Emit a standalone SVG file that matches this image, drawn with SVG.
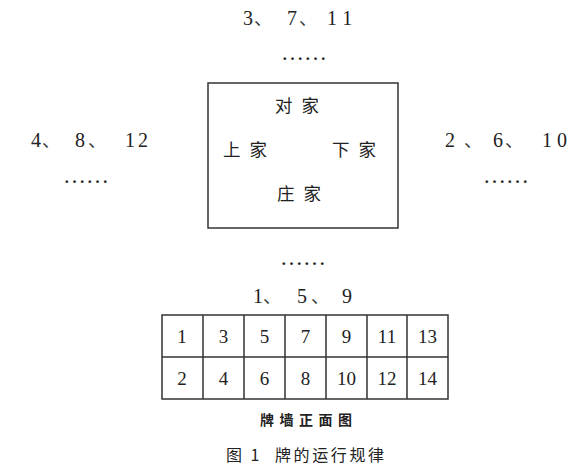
<svg xmlns="http://www.w3.org/2000/svg" width="580" height="468" viewBox="0 0 580 468">
<style>
.num{font-family:"Liberation Serif","Times New Roman",serif;font-size:20px;fill:#222}
.cjk{font-family:"Noto Sans CJK SC","Noto Sans CJK JP",sans-serif;fill:#222}
.sep{font-family:"Noto Sans CJK SC",sans-serif;font-size:18px;fill:#333}
.dots{font-family:"Liberation Serif",serif;font-size:23px;fill:#222}
.seat{font-size:17.5px;letter-spacing:9px}
.cell{font-family:"Liberation Serif","Times New Roman",serif;font-size:19px;fill:#222;text-anchor:middle}
.line{fill:none;stroke:#333;stroke-width:1.5}
</style>
<rect width="580" height="468" fill="#ffffff"/>
<g id="top-label">
<text class="num" x="243" y="25">3</text><text class="sep" x="254" y="25">、</text>
<text class="num" x="287" y="25">7</text><text class="sep" x="299" y="25">、</text>
<text class="num" x="327" y="25" letter-spacing="6">11</text>
<text class="dots" x="281" y="60">……</text>
</g>
<g id="left-label">
<text class="num" x="31" y="147">4</text><text class="sep" x="42" y="147">、</text>
<text class="num" x="75" y="147">8</text><text class="sep" x="88" y="147">、</text>
<text class="num" x="125" y="147" letter-spacing="3">12</text>
<text class="dots" x="63" y="183">……</text>
</g>
<g id="right-label">
<text class="num" x="445" y="147">2</text><text class="sep" x="464" y="147">、</text>
<text class="num" x="493" y="147">6</text><text class="sep" x="505" y="147">、</text>
<text class="num" x="542" y="147" letter-spacing="5">10</text>
<text class="dots" x="483" y="183">……</text>
</g>
<g id="table-box">
<rect class="line" x="208" y="83" width="190" height="145"/>
<text class="cjk seat" x="275" y="112">对家</text>
<text class="cjk seat" x="223" y="156">上家</text>
<text class="cjk seat" x="332" y="156">下家</text>
<text class="cjk seat" x="277" y="200">庄家</text>
</g>
<g id="bottom-label">
<text class="dots" x="280" y="265">……</text>
<text class="num" x="253" y="303">1</text><text class="sep" x="263" y="303">、</text>
<text class="num" x="297" y="303">5</text><text class="sep" x="311" y="303">、</text>
<text class="num" x="342" y="303">9</text>
</g>
<g id="wall">
<rect class="line" x="162" y="315" width="286" height="84"/>
<path class="line" d="M162 357H448M203 315V399M244 315V399M285 315V399M326 315V399M367 315V399M407 315V399"/>
<text class="cell" x="182" y="343">1</text>
<text class="cell" x="223.5" y="343">3</text>
<text class="cell" x="264.5" y="343">5</text>
<text class="cell" x="305.5" y="343">7</text>
<text class="cell" x="346.5" y="343">9</text>
<text class="cell" x="387" y="343">11</text>
<text class="cell" x="427.5" y="343">13</text>
<text class="cell" x="182" y="385">2</text>
<text class="cell" x="223.5" y="385">4</text>
<text class="cell" x="264.5" y="385">6</text>
<text class="cell" x="305.5" y="385">8</text>
<text class="cell" x="346.5" y="385">10</text>
<text class="cell" x="387" y="385">12</text>
<text class="cell" x="427.5" y="385">14</text>
</g>
<g id="captions">
<text class="cjk" x="260" y="425" font-size="14" font-weight="bold" letter-spacing="5.5">牌墙正面图</text>
<text class="cjk" x="226" y="461" font-size="16" letter-spacing="2.5">图 1</text>
<text class="cjk" x="275" y="461" font-size="16" letter-spacing="2.6">牌的运行规律</text>
</g>
</svg>
